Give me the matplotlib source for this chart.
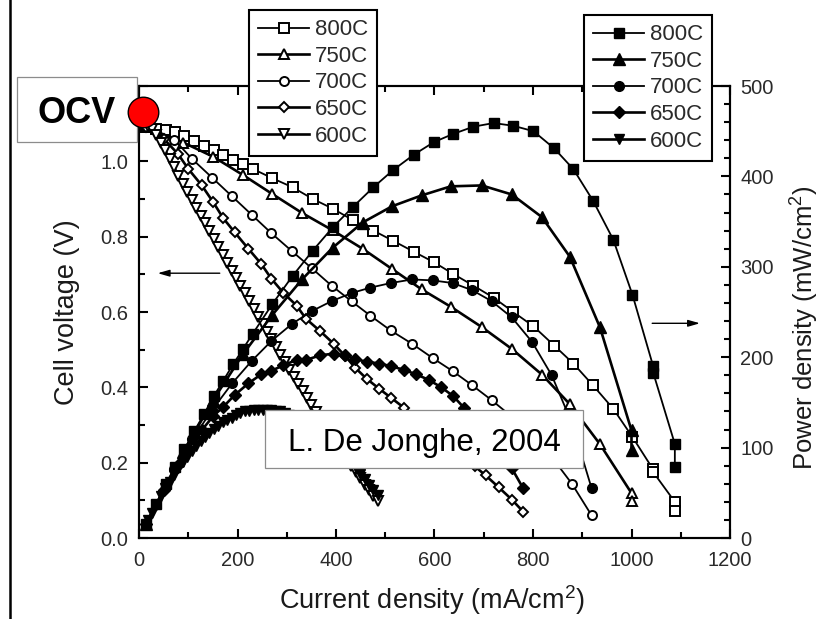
import numpy as np
import matplotlib.pyplot as plt
from matplotlib.lines import Line2D
from matplotlib.patches import Rectangle

plt.rcParams['font.family'] = ['Liberation Sans', 'DejaVu Sans']
plt.rcParams['mathtext.fontset'] = 'custom'
plt.rcParams['mathtext.rm'] = 'Liberation Sans'

# current density (mA/cm2), cell voltage (V) and power density (mW/cm2)
i_800 = [15, 35, 55, 73, 92, 112, 132, 152, 171, 191, 211, 231, 271, 312, 353,
         394, 434, 476, 516, 558, 599, 638, 679, 720, 760, 801, 843, 882, 922,
         963, 1002, 1044, 1044, 1088, 1088]
v_800 = [1.092, 1.087, 1.083, 1.078, 1.066, 1.054, 1.041, 1.030, 1.018, 1.004,
         0.992, 0.980, 0.955, 0.931, 0.900, 0.874, 0.844, 0.816, 0.789, 0.760,
         0.732, 0.701, 0.670, 0.638, 0.600, 0.562, 0.511, 0.463, 0.405, 0.343,
         0.268, 0.182, 0.175, 0.096, 0.073]
p_800 = [16, 38, 60, 79, 98, 118, 137, 157, 174, 192, 209, 226, 259, 290, 318,
         344, 366, 388, 407, 424, 438, 447, 455, 459, 456, 450, 431, 408, 373,
         330, 269, 190, 183, 104, 79]

i_750 = [15, 90, 151, 212, 271, 331, 393, 454, 514, 574, 633, 696, 757, 818,
         875, 936, 1000, 1000]
v_750 = [1.090, 1.050, 1.012, 0.963, 0.913, 0.863, 0.817, 0.768, 0.714, 0.660,
         0.614, 0.560, 0.502, 0.434, 0.355, 0.249, 0.119, 0.097]
p_750 = [16, 95, 153, 204, 247, 286, 321, 349, 367, 379, 389, 390, 380, 355,
         311, 233, 119, 97]

i_700 = [15, 72, 108, 149, 189, 229, 269, 311, 351, 391, 432, 470, 511, 554,
         596, 637, 677, 716, 757, 798, 838, 879, 919]
v_700 = [1.090, 1.057, 1.006, 0.956, 0.907, 0.858, 0.809, 0.761, 0.716, 0.670,
         0.628, 0.590, 0.551, 0.516, 0.478, 0.443, 0.405, 0.366, 0.322, 0.272,
         0.215, 0.144, 0.060]
p_700 = [16, 76, 109, 142, 171, 196, 218, 237, 251, 262, 271, 277, 282, 286,
         285, 282, 274, 262, 244, 217, 180, 127, 55]

i_650 = [15, 50, 79, 100, 127, 151, 171, 194, 222, 248, 269, 293, 320, 339,
         368, 395, 418, 439, 462, 488, 512, 538, 563, 588, 613, 638, 660, 682,
         704, 730, 757, 780]
v_650 = [1.090, 1.060, 1.020, 0.980, 0.937, 0.891, 0.849, 0.812, 0.768, 0.728,
         0.688, 0.651, 0.617, 0.582, 0.549, 0.516, 0.484, 0.452, 0.423, 0.396,
         0.372, 0.346, 0.322, 0.297, 0.272, 0.246, 0.218, 0.190, 0.166, 0.135,
         0.102, 0.070]
p_650 = [16, 53, 81, 98, 119, 135, 145, 158, 171, 181, 185, 191, 197, 197,
         202, 204, 202, 198, 195, 193, 190, 186, 181, 175, 167, 157, 144, 130,
         117, 99, 77, 55]

i_600 = [18, 26, 35, 44, 53, 62, 71, 80, 89, 98,
         107, 116, 125, 134, 143, 152, 161, 170, 179, 188,
         197, 206, 215, 224, 233, 242, 251, 260, 269, 278,
         287, 296, 305, 314, 323, 332, 341, 350, 359, 368,
         377, 386, 395, 404, 413, 422, 431, 440, 449, 458,
         467, 476, 485]
v_600 = [1.095, 1.085, 1.070, 1.050, 1.030, 1.005, 0.985, 0.962, 0.940, 0.918,
         0.897, 0.876, 0.855, 0.835, 0.814, 0.793, 0.772, 0.751, 0.730, 0.710,
         0.690, 0.670, 0.650, 0.629, 0.608, 0.588, 0.567, 0.547, 0.527, 0.507,
         0.487, 0.467, 0.447, 0.428, 0.408, 0.390, 0.371, 0.352, 0.334, 0.315,
         0.297, 0.279, 0.261, 0.243, 0.225, 0.208, 0.190, 0.174, 0.158, 0.142,
         0.127, 0.112, 0.098]
p_600 = [20, 28, 37, 46, 55, 62, 70, 77, 84, 90,
         96, 102, 107, 112, 116, 121, 124, 128, 131, 133,
         136, 138, 140, 141, 142, 142, 142, 142, 142, 141,
         140, 138, 136, 134, 132, 129, 127, 123, 120, 116,
         112, 108, 103, 98, 93, 88, 82, 77, 71, 65,
         59, 53, 48]

temps = ['800C', '750C', '700C', '650C', '600C']
currents = [i_800, i_750, i_700, i_650, i_600]
voltages = [v_800, v_750, v_700, v_650, v_600]
powers = [p_800, p_750, p_700, p_650, p_600]

ocv_i, ocv_v = 8, 1.132

markers = ['s', '^', 'o', 'D', 'v']
msize = [6.5, 7.5, 6.5, 5.5, 6.5]
fsize = [7.5, 8.5, 7.0, 6.0, 6.5]
lwidth = [1.3, 1.9, 1.3, 1.9, 1.9]

fig = plt.figure(figsize=(8.25, 6.19), dpi=100)
ax1 = fig.add_axes([139 / 825, 81 / 619, 591 / 825, 452 / 619])
ax2 = ax1.twinx()

for k in range(5):
    ax1.plot(currents[k], voltages[k], color='k', lw=lwidth[k],
             marker=markers[k], ms=msize[k], mfc='white', mec='k', mew=1.4,
             label=temps[k])
    ax2.plot(currents[k], powers[k], color='k', lw=lwidth[k],
             marker=markers[k], ms=fsize[k], mfc='k', mec='k', mew=1.0,
             label=temps[k])

ax1.set_xlim(0, 1200)
ax1.set_ylim(0, 1.2)
ax2.set_ylim(0, 500)

ax1.set_xticks(np.arange(0, 1201, 200))
ax1.set_xticks(np.arange(0, 1201, 100), minor=True)
ax1.set_yticks(np.arange(0, 1.21, 0.2))
ax1.set_yticks(np.arange(0, 1.21, 0.1), minor=True)
ax1.set_yticklabels(['%.1f' % t for t in np.arange(0, 1.21, 0.2)])
ax2.set_yticks(np.arange(0, 501, 100))
ax2.set_yticks(np.arange(0, 501, 20), minor=True)

tick_col = '#2a2a2a'
ax1.tick_params(axis='both', which='major', direction='in', length=6.7,
                width=1.5, labelsize=14.5, labelcolor=tick_col)
ax1.tick_params(axis='both', which='minor', direction='in', length=4,
                width=1.5)
ax1.tick_params(axis='x', which='both', top=True, pad=9)
ax1.tick_params(axis='y', which='both', right=False, pad=8)
ax2.tick_params(axis='y', which='major', direction='in', length=6.7,
                width=1.5, labelsize=14.5, labelcolor=tick_col, pad=7.5)
ax2.tick_params(axis='y', which='minor', direction='in', length=4, width=1.5)

for ax in (ax1, ax2):
    for s in ax.spines.values():
        s.set_linewidth(1.5)

ax1.set_xlabel('Current density (mA/cm$^\\mathregular{2}$)', fontsize=19.5,
               color='#1a1a1a')
ax1.xaxis.set_label_coords(0.496, -0.158)
ax1.xaxis.label.set_va('baseline')
ax1.set_ylabel('Cell voltage (V)', fontsize=19.5, color='#1a1a1a')
ax1.yaxis.set_label_coords(-0.10, 0.5)
ax2.set_ylabel('Power density (mW/cm$^\\mathregular{2}$)', fontsize=18.5,
               color='#1a1a1a')
ax2.yaxis.set_label_coords(1.097, 0.465)

# arrows pointing each family of curves to its axis
ax1.annotate('', xy=(38, 0.703), xytext=(164, 0.703),
             arrowprops=dict(arrowstyle='-|>,head_length=0.7,head_width=0.2',
                             color='k', lw=1.0, shrinkA=0, shrinkB=0))
ax1.annotate('', xy=(1139, 0.570), xytext=(1042, 0.570),
             arrowprops=dict(arrowstyle='-|>,head_length=0.7,head_width=0.2',
                             color='k', lw=1.0, shrinkA=0, shrinkB=0))

leg_kw = dict(loc='upper left', borderaxespad=0, fontsize=16, numpoints=1,
              handlelength=2.3, handletextpad=0.25, labelspacing=0.25,
              borderpad=0.42, fancybox=False, framealpha=1, edgecolor='k',
              labelcolor='#2a2a2a')
leg1 = fig.legend(handles=ax1.get_lines()[:5], labels=temps,
                  bbox_to_anchor=(249 / 825, 1 - 10 / 619), **leg_kw)
leg2 = fig.legend(handles=ax2.get_lines()[:5], labels=temps,
                  bbox_to_anchor=(584 / 825, 1 - 15 / 619), **leg_kw)
for leg in (leg1, leg2):
    leg.get_frame().set_linewidth(1.5)

# open circuit voltage marker and its label
fig.add_artist(Rectangle((17 / 825, 1 - 142 / 619), 120 / 825, 65 / 619,
                         transform=fig.transFigure, facecolor='white',
                         edgecolor='#8c8c8c', lw=0.9, zorder=4))
fig.text(77 / 825, 1 - 123 / 619, 'OCV', fontsize=26, fontweight='bold',
         ha='center', va='baseline', zorder=5)
fig.add_artist(Line2D([ocv_i], [ocv_v], transform=ax1.transData, marker='o',
                      ms=22, mfc='#ff0000', mec='k', mew=1.0, zorder=6))

fig.add_artist(Rectangle((265 / 825, 1 - 468 / 619), 318 / 825, 58 / 619,
                         transform=fig.transFigure, facecolor='white',
                         edgecolor='#8c8c8c', lw=0.9, zorder=4))
fig.text(424 / 825, 1 - 451 / 619, 'L. De Jonghe, 2004', fontsize=22.5,
         ha='center', va='baseline', zorder=5)

fig.add_artist(Line2D([9.5 / 825, 9.5 / 825], [0, 1],
                      transform=fig.transFigure, color='k', lw=1.8))

fig.savefig('out.png', dpi=100)
